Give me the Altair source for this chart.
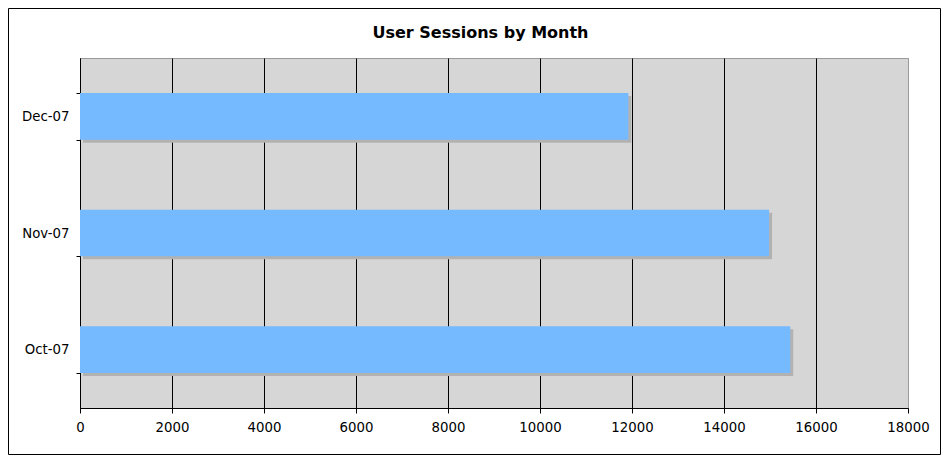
import altair as alt
import pandas as pd

months = ["Oct-07", "Nov-07", "Dec-07"]
sessions = [15440, 14980, 11920]
x_ticks = list(range(0, 18001, 2000))

df = pd.DataFrame({"month": months, "sessions": sessions})
FONT = "DejaVu Sans"

y_enc = alt.Y(
    "month:N",
    sort=["Dec-07", "Nov-07", "Oct-07"],
    title=None,
    scale=alt.Scale(paddingInner=0.6, paddingOuter=0.3),
    axis=alt.Axis(
        tickBand="extent", tickSize=4, tickColor="black", domainColor="black",
        labelPadding=7, labelFontSize=13.3, labelColor="black", labelFont=FONT,
        grid=False,
    ),
)
x_enc = alt.X(
    "sessions:Q",
    title=None,
    scale=alt.Scale(domain=[0, 18000], nice=False),
    axis=alt.Axis(
        values=x_ticks, format="d", tickSize=5, tickColor="black", domainColor="black",
        labelPadding=7, labelFontSize=13.3, labelColor="black", labelFont=FONT,
        grid=True,
        gridColor={"condition": {"test": "datum.value >= 18000", "value": "#9a9a9a"}, "value": "black"},
        gridWidth=1, gridOpacity=1, labelFlush=False, labelOverlap=False,
    ),
)

shadow = alt.Chart(df).mark_bar(
    color="#b2b2b2", xOffset=3, x2Offset=3, yOffset=3, y2Offset=3
).encode(x=x_enc, y=y_enc)

bars = alt.Chart(df).mark_bar(color="#75b9ff").encode(x=x_enc, y=y_enc)

frame = alt.Chart(alt.Data(values=[{"a": 1}])).mark_rect(
    filled=False, stroke="black", strokeWidth=1
).encode(
    x=alt.value(-71.5), x2=alt.value(860.5), y=alt.value(-49.5), y2=alt.value(396.5)
)

chart = alt.layer(frame, shadow, bars).properties(
    width=828,
    height=350,
    title=alt.TitleParams(
        "User Sessions by Month", font=FONT, fontSize=16, fontWeight="bold",
        color="black", anchor="middle", frame="group", dx=-13.5, offset=-46,
        baseline="alphabetic",
    ),
    autosize=alt.AutoSizeParams(type="none"),
    padding={"left": 72, "top": 50, "right": 33, "bottom": 48},
).configure(
    background="white"
).configure_view(
    fill="#d6d6d6", stroke="#9a9a9a", strokeWidth=1
)

chart.save("out.html", embed_options={"renderer": "svg", "actions": False})
